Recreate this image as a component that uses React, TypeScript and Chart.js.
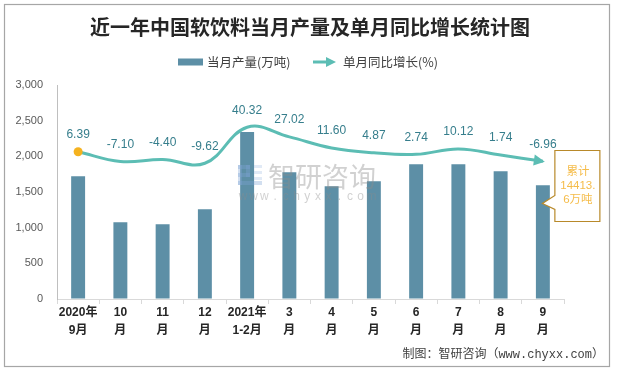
import { useEffect, useRef } from "react";
import { Chart, registerables } from "chart.js";

Chart.register(...registerables);

const TITLE = "近一年中国软饮料当月产量及单月同比增长统计图";
const CATEGORIES: string[][] = [
  ["2020年", "9月"],
  ["10", "月"],
  ["11", "月"],
  ["12", "月"],
  ["2021年", "1-2月"],
  ["3", "月"],
  ["4", "月"],
  ["5", "月"],
  ["6", "月"],
  ["7", "月"],
  ["8", "月"],
  ["9", "月"],
];
const OUTPUT = [1720, 1075, 1047, 1257, 2340, 1776, 1580, 1650, 1888, 1888, 1790, 1594];
const GROWTH = [6.39, -7.1, -4.4, -9.62, 40.32, 27.02, 11.6, 4.87, 2.74, 10.12, 1.74, -6.96];
const GROWTH_LABELS = ["6.39", "-7.10", "-4.40", "-9.62", "40.32", "27.02", "11.60", "4.87", "2.74", "10.12", "1.74", "-6.96"];
const Y_MIN = 0;
const Y_MAX = 3000;
const Y_STEP = 500;
const SERIES_NAMES = ["当月产量(万吨)", "单月同比增长(%)"];
const CALLOUT_LINES = ["累计", "14413.", "6万吨"];
const SOURCE = "制图：智研咨询（www.chyxx.com）";
const WATERMARK_NAME = "智研咨询";
const WATERMARK_URL = "www.chyxx.com";

const CJK = '"Noto Sans CJK SC", sans-serif';
const LATIN = '"Liberation Sans", "Noto Sans CJK SC", sans-serif';
const BAR_COLOR = "#5D8FA6";
const LINE_COLOR = "#5CBDB4";
const LABEL_COLOR = "#367E8C";
const DOT_COLOR = "#F5B21F";

const decorPlugin = {
  id: "decor",
  beforeDraw(chart: any) {
    const ctx = chart.ctx as CanvasRenderingContext2D;
    ctx.save();
    ctx.fillStyle = "#ffffff";
    ctx.fillRect(0, 0, chart.width, chart.height);
    ctx.strokeStyle = "#A6A6A6";
    ctx.lineWidth = 1.2;
    ctx.strokeRect(4.5, 4.5, 605, 362);
    ctx.restore();
  },
  afterDatasetsDraw(chart: any) {
    const ctx = chart.ctx as CanvasRenderingContext2D;
    const lineMeta = chart.getDatasetMeta(1);
    const pts = lineMeta.data as any[];
    ctx.save();
    // arrow head at the end of the line
    const last = pts[pts.length - 1];
    const prev = pts[pts.length - 2];
    let dx = last.x - (last.cp1x ?? prev.x);
    let dy = last.y - (last.cp1y ?? prev.y);
    if (Math.abs(dx) + Math.abs(dy) < 0.01) {
      dx = last.x - prev.x;
      dy = last.y - prev.y;
    }
    const len = Math.hypot(dx, dy);
    const ux = dx / len, uy = dy / len;
    const tipX = last.x + ux * 2, tipY = last.y + uy * 2;
    const L = 11, W = 5.5;
    ctx.fillStyle = LINE_COLOR;
    ctx.beginPath();
    ctx.moveTo(tipX, tipY);
    ctx.lineTo(tipX - ux * L - uy * W, tipY - uy * L + ux * W);
    ctx.lineTo(tipX - ux * L + uy * W, tipY - uy * L - ux * W);
    ctx.closePath();
    ctx.fill();

    // data labels
    ctx.fillStyle = LABEL_COLOR;
    ctx.font = `12px ${LATIN}`;
    ctx.textAlign = "center";
    ctx.textBaseline = "middle";
    pts.forEach((p: any, i: number) => {
      ctx.fillText(GROWTH_LABELS[i], p.x, p.y - 17);
    });

    // watermark
    const wx = 238, wy = 165;
    ctx.globalAlpha = 0.35;
    ctx.fillStyle = "#7FA3D3";
    ctx.fillRect(wx, wy, 4, 20);
    ctx.fillRect(wx, wy, 12, 4);
    ctx.fillRect(wx + 8, wy, 4, 12);
    ctx.fillRect(wx, wy + 8, 12, 4);
    ctx.fillRect(wx, wy + 16, 24, 4);
    ctx.fillStyle = "#A9C3E6";
    ctx.fillRect(wx + 16, wy, 8, 3);
    ctx.fillRect(wx + 16, wy + 6, 8, 3);
    ctx.fillRect(wx + 16, wy + 12, 8, 3);
    ctx.globalAlpha = 0.4;
    ctx.fillStyle = "#8C8C8C";
    ctx.font = `27px ${CJK}`;
    ctx.textAlign = "left";
    ctx.textBaseline = "middle";
    ctx.fillText(WATERMARK_NAME, 268, 177);
    ctx.font = `12px ${LATIN}`;
    ctx.textAlign = "center";
    const chars = WATERMARK_URL.split("");
    chars.forEach((c, i) => ctx.fillText(c, 243 + i * 10.7, 197));
    ctx.globalAlpha = 1;

    // callout box
    const barMeta = chart.getDatasetMeta(0);
    const lastBar = barMeta.data[barMeta.data.length - 1] as any;
    const tx = lastBar.x - 0.5;
    const ty = 203.5;
    const bl = tx + 12.5, bt = 150.5, bw = 45, bh = 71;
    ctx.beginPath();
    ctx.moveTo(bl, bt);
    ctx.lineTo(bl + bw, bt);
    ctx.lineTo(bl + bw, bt + bh);
    ctx.lineTo(bl, bt + bh);
    ctx.lineTo(bl, ty + 6);
    ctx.lineTo(tx, ty);
    ctx.lineTo(bl, ty - 8);
    ctx.closePath();
    ctx.fillStyle = "#ffffff";
    ctx.fill();
    ctx.strokeStyle = "#B8892A";
    ctx.lineWidth = 1.2;
    ctx.stroke();
    ctx.fillStyle = "#F5BC4A";
    ctx.font = `11.5px ${LATIN}`;
    ctx.textAlign = "center";
    ctx.textBaseline = "middle";
    CALLOUT_LINES.forEach((t, i) => ctx.fillText(t, bl + bw / 2 + 0.5, 172 + i * 13.8));
    ctx.restore();
  },
  afterDraw(chart: any) {
    const ctx = chart.ctx as CanvasRenderingContext2D;
    ctx.save();
    // title
    ctx.fillStyle = "#262626";
    ctx.font = `bold 20px ${CJK}`;
    ctx.textAlign = "center";
    ctx.textBaseline = "middle";
    ctx.fillText(TITLE, 310, 27);

    // legend
    ctx.fillStyle = BAR_COLOR;
    ctx.fillRect(178, 58.5, 25, 7);
    ctx.fillStyle = "#404040";
    ctx.font = `12.5px ${CJK}`;
    ctx.textAlign = "left";
    ctx.fillText(SERIES_NAMES[0], 207, 62);
    ctx.strokeStyle = LINE_COLOR;
    ctx.lineWidth = 3;
    ctx.beginPath();
    ctx.moveTo(313, 62);
    ctx.lineTo(328, 62);
    ctx.stroke();
    ctx.fillStyle = LINE_COLOR;
    ctx.beginPath();
    ctx.moveTo(336, 62);
    ctx.lineTo(326, 57);
    ctx.lineTo(326, 67);
    ctx.closePath();
    ctx.fill();
    ctx.fillStyle = "#404040";
    ctx.fillText(SERIES_NAMES[1], 343, 62);

    // source
    ctx.fillStyle = "#404040";
    ctx.font = `12px "Liberation Mono", "Noto Sans CJK SC", monospace`;
    ctx.textAlign = "right";
    ctx.fillText(SOURCE, 604, 355);
    ctx.restore();
  },
};

export default function App() {
  const ref = useRef<HTMLCanvasElement | null>(null);
  useEffect(() => {
    document.body.style.margin = "0";
    const canvas = ref.current;
    if (!canvas) return;
    const chart = new Chart(canvas, {
      type: "bar",
      data: {
        labels: CATEGORIES,
        datasets: [
          {
            type: "bar",
            label: SERIES_NAMES[0],
            data: OUTPUT,
            backgroundColor: BAR_COLOR,
            barPercentage: 0.33,
            categoryPercentage: 1,
            yAxisID: "y",
            order: 1,
          },
          {
            type: "line",
            label: SERIES_NAMES[1],
            data: GROWTH,
            borderColor: LINE_COLOR,
            borderWidth: 3,
            tension: 0.4,
            fill: false,
            pointRadius: (c: any) => (c.dataIndex === 0 ? 4.5 : 0),
            pointHoverRadius: 0,
            pointBackgroundColor: DOT_COLOR,
            pointBorderWidth: 0,
            yAxisID: "y1",
            order: 0,
          } as any,
        ],
      },
      options: {
        responsive: false,
        animation: false,
        layout: { padding: { left: 0, right: 53, top: 85, bottom: 0 } },
        plugins: {
          legend: { display: false },
          title: { display: false },
          tooltip: { enabled: false },
        },
        scales: {
          x: {
            grid: {
              drawOnChartArea: false,
              drawTicks: true,
              tickLength: 5,
              color: "#D9D9D9",
              offset: true,
            },
            border: { display: true, color: "#D9D9D9" },
            ticks: {
              padding: 0,
              color: "#262626",
              maxRotation: 0,
              autoSkip: false,
              font: { family: LATIN, size: 12, weight: "bold", lineHeight: 1.5 },
            },
            afterFit: (s: any) => {
              s.height = 71;
            },
          },
          y: {
            min: Y_MIN,
            max: Y_MAX,
            grid: { drawOnChartArea: false, drawTicks: false },
            border: { display: true, color: "#BFBFBF" },
            ticks: {
              stepSize: Y_STEP,
              padding: 14,
              color: "#595959",
              font: { family: LATIN, size: 11 },
              callback: (v: any) => Number(v).toLocaleString("en-US"),
            },
            afterFit: (s: any) => {
              s.width = 57;
            },
          },
          y1: {
            display: false,
            min: -198,
            max: 99,
          },
        },
      },
      plugins: [decorPlugin],
    } as any);
    return () => chart.destroy();
  }, []);
  return <canvas ref={ref} width={617} height={370} style={{ display: "block" }} />;
}
